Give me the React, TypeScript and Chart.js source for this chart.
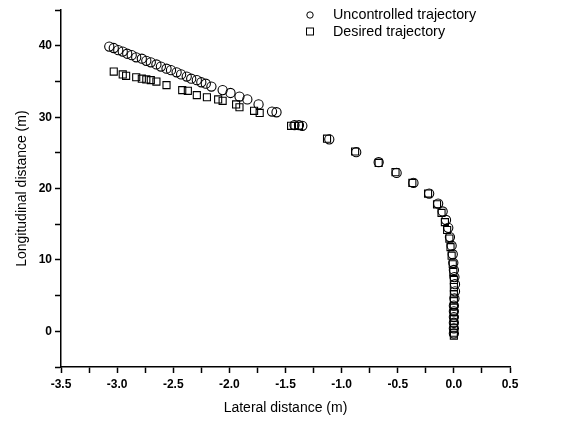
import { useEffect, useRef } from 'react';
import { Chart, registerables } from 'chart.js';

Chart.register(...registerables);

const seriesNames = ['Uncontrolled trajectory', 'Desired trajectory'];

const uncontrolledX = [
  -3.07, -3.03, -2.99, -2.95, -2.91, -2.87, -2.83, -2.78, -2.74, -2.7, -2.65, -2.61, -2.56, -2.52,
  -2.47, -2.43, -2.38, -2.34, -2.29, -2.25, -2.21, -2.16, -2.06, -1.99, -1.91, -1.84, -1.74, -1.62,
  -1.58, -1.42, -1.38, -1.35, -1.11, -0.87, -0.67, -0.51, -0.36, -0.22, -0.14, -0.1, -0.07, -0.05,
  -0.035, -0.02, -0.01, -0.005, 0.0, 0.005, 0.01, 0.01, 0.005, 0.0, 0.0, 0.0, 0.0, 0.0, 0.0,
];
const uncontrolledY = [
  39.9, 39.7, 39.4, 39.2, 38.9, 38.7, 38.4, 38.2, 37.9, 37.7, 37.4, 37.1, 36.8, 36.6,
  36.3, 36.0, 35.7, 35.4, 35.2, 34.9, 34.7, 34.3, 33.8, 33.4, 32.9, 32.5, 31.8, 30.8,
  30.7, 28.9, 28.9, 28.8, 26.9, 25.1, 23.7, 22.2, 20.8, 19.3, 17.9, 16.8, 15.6, 14.5,
  13.2, 12.0, 10.8, 9.6, 8.6, 7.6, 6.6, 5.6, 4.6, 3.6, 2.8, 2.0, 1.2, 0.4, -0.3,
];

const desiredX = [
  -3.03, -2.95, -2.92, -2.83, -2.78, -2.74, -2.7, -2.65, -2.56, -2.42, -2.37, -2.29, -2.2, -2.1,
  -2.06, -1.94, -1.91, -1.78, -1.73, -1.45, -1.42, -1.38, -1.13, -0.88, -0.67, -0.52, -0.37, -0.23,
  -0.15, -0.11, -0.08, -0.06, -0.04, -0.03, -0.02, -0.01, -0.005, 0.0, 0.0, 0.0, 0.0, 0.0, 0.0,
  0.0, 0.0, 0.0, 0.0, 0.0,
];
const desiredY = [
  36.4, 36.0, 35.8, 35.6, 35.4, 35.3, 35.2, 35.0, 34.5, 33.8, 33.7, 33.1, 32.8, 32.5,
  32.3, 31.8, 31.4, 30.9, 30.6, 28.8, 28.8, 28.8, 27.0, 25.2, 23.6, 22.3, 20.8, 19.3,
  17.8, 16.6, 15.3, 14.2, 13.0, 11.8, 10.6, 9.4, 8.3, 7.2, 6.2, 5.2, 4.3, 3.5, 2.7,
  1.9, 1.2, 0.5, -0.2, -0.6,
];

const xLabeledTicks = [-3.5, -3.0, -2.5, -2.0, -1.5, -1.0, -0.5, 0.0, 0.5];
const yLabeledTicks = [0, 10, 20, 30, 40];

const xTitle = 'Lateral distance (m)';
const yTitle = 'Longitudinal distance (m)';

const FONT = '"Liberation Sans", Arial, Helvetica, sans-serif';

const insetLegend = {
  id: 'insetLegend',
  afterDraw(chart: any) {
    const ctx = chart.ctx as CanvasRenderingContext2D;
    ctx.save();
    ctx.font = `14.3px ${FONT}`;
    ctx.textBaseline = 'middle';
    ctx.textAlign = 'left';
    ctx.fillStyle = '#000';
    ctx.strokeStyle = '#000';
    ctx.lineWidth = 1;
    chart.data.datasets.forEach((ds: any, i: number) => {
      const y = 15 + i * 16.5;
      ctx.beginPath();
      if (ds.pointStyle === 'circle') {
        ctx.arc(310, y, 3.2, 0, Math.PI * 2);
        ctx.stroke();
      } else {
        ctx.strokeRect(306.5, y - 3.5, 7, 7);
      }
      ctx.fillText(ds.label, 333, y + 0.5);
    });
    ctx.restore();
  },
};

function isLabeled(v: number, list: number[]) {
  return list.some((t) => Math.abs(t - v) < 1e-6);
}

export default function App() {
  const canvasRef = useRef<HTMLCanvasElement | null>(null);

  useEffect(() => {
    if (!canvasRef.current) return;
    const chart = new Chart(canvasRef.current, {
      type: 'scatter',
      data: {
        datasets: [
          {
            label: seriesNames[0],
            data: uncontrolledX.map((x, i) => ({ x, y: uncontrolledY[i] })),
            pointStyle: 'circle',
            pointRadius: 4.6,
            borderColor: '#000',
            backgroundColor: 'rgba(255,255,255,0)',
            borderWidth: 1.1,
            showLine: false,
          },
          {
            label: seriesNames[1],
            data: desiredX.map((x, i) => ({ x, y: desiredY[i] })),
            pointStyle: 'rect',
            pointRadius: 5,
            borderColor: '#000',
            backgroundColor: 'rgba(255,255,255,0)',
            borderWidth: 1.1,
            showLine: false,
          },
        ],
      },
      options: {
        responsive: false,
        animation: false,
        layout: { padding: { top: 5, right: 52, left: 0, bottom: 0 } },
        plugins: {
          legend: { display: false },
          tooltip: { enabled: false },
        },
        scales: {
          x: {
            type: 'linear',
            min: -3.5,
            max: 0.5,
            afterFit: (s: any) => {
              s.height = 59;
            },
            border: { display: true, color: '#000', width: 1.5 },
            grid: {
              display: true,
              drawOnChartArea: false,
              drawTicks: true,
              tickLength: 6,
              tickColor: '#000',
              tickWidth: 1.5,
            },
            ticks: {
              stepSize: 0.25,
              autoSkip: false,
              maxRotation: 0,
              padding: 4,
              color: '#000',
              font: { family: FONT, size: 12, weight: 'bold' },
              callback: (v: any) => (isLabeled(Number(v), xLabeledTicks) ? Number(v).toFixed(1) : ''),
            },
            title: {
              display: true,
              text: xTitle,
              color: '#000',
              font: { family: FONT, size: 14 },
              padding: { top: 0, bottom: 9 },
            },
          },
          y: {
            type: 'linear',
            min: -5,
            max: 45,
            afterFit: (s: any) => {
              s.width = 61;
            },
            border: { display: true, color: '#000', width: 1.5 },
            grid: {
              display: true,
              drawOnChartArea: false,
              drawTicks: true,
              tickLength: 6,
              tickColor: '#000',
              tickWidth: 1.5,
            },
            ticks: {
              stepSize: 5,
              autoSkip: false,
              padding: 3,
              color: '#000',
              font: { family: FONT, size: 12, weight: 'bold' },
              callback: (v: any) => (isLabeled(Number(v), yLabeledTicks) ? String(v) : ''),
            },
            title: {
              display: true,
              text: yTitle,
              color: '#000',
              font: { family: FONT, size: 14 },
              padding: { top: 14, bottom: 0 },
            },
          },
        },
      },
      plugins: [insetLegend],
    });
    return () => chart.destroy();
  }, []);

  return (
    <div style={{ position: 'fixed', left: 0, top: 0, width: 562, height: 426, background: '#fff' }}>
      <canvas ref={canvasRef} width={562} height={426} style={{ display: 'block' }} />
    </div>
  );
}
